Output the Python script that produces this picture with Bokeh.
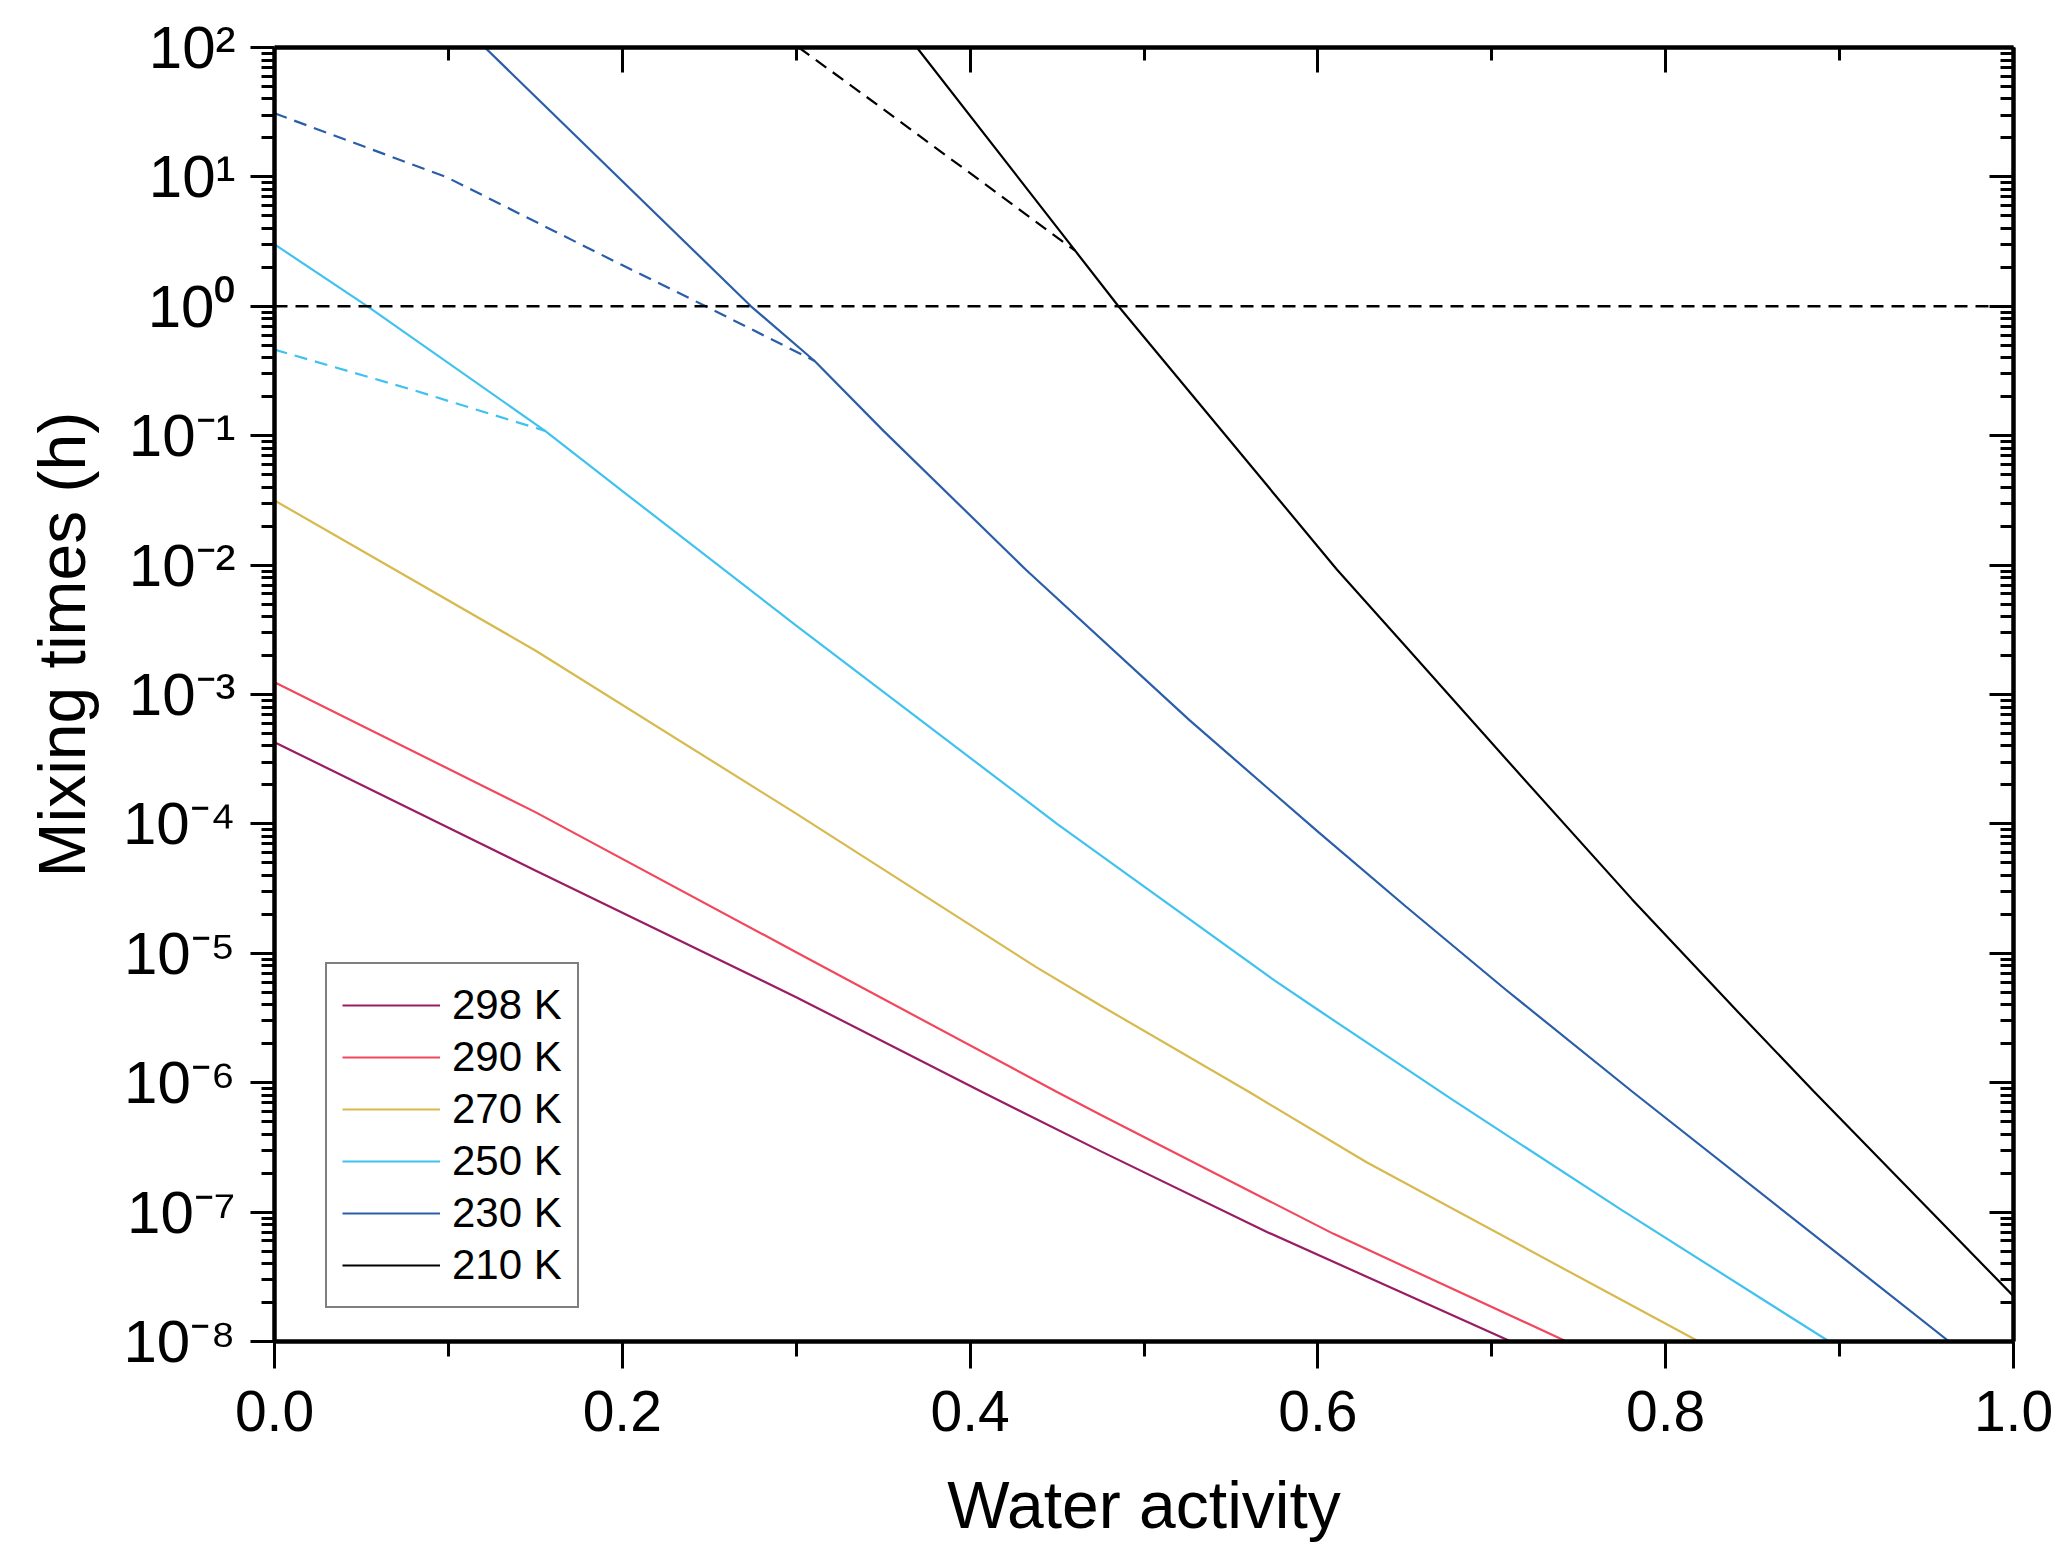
from bokeh.plotting import figure
from bokeh.models import (Range1d, FixedTicker, SingleIntervalTicker, LinearAxis, LogAxis,
                          NumeralTickFormatter, CustomJSTickFormatter, Span, Title)
from bokeh.embed import file_html
from bokeh.resources import INLINE

FONT = "Liberation Sans"

# water activity -> mixing time (h)
aw_298 = [0.0, 0.15, 0.30, 0.4075, 0.475, 0.571, 0.711]
tau_298 = [4.28e-4, 4.37e-5, 4.58e-6, 8.40e-7, 2.96e-7, 7.00e-8, 1.0e-8]

aw_290 = [0.0, 0.15, 0.30, 0.45, 0.475, 0.609, 0.743]
tau_290 = [1.245e-3, 1.233e-4, 1.02e-5, 8.47e-7, 5.65e-7, 6.79e-8, 1.0e-8]

aw_270 = [0.0, 0.15, 0.30, 0.438, 0.475, 0.561, 0.628, 0.775, 0.819]
tau_270 = [3.16e-2, 2.19e-3, 1.20e-4, 7.82e-6, 3.95e-6, 8.39e-7, 2.43e-7, 2.08e-8, 1.0e-8]

aw_250 = [0.0, 0.0535, 0.1556, 0.206, 0.300, 0.450, 0.575, 0.600, 0.650, 0.676, 0.775, 0.894]
tau_250 = [3.01, 1.0, 0.109, 3.24e-2, 3.41e-3, 1.00e-4, 6.17e-6, 3.66e-6, 1.30e-6,
           7.59e-7, 1.03e-7, 1.0e-8]
aw_250_dash = [0.0, 0.078, 0.1556]
tau_250_dash = [0.463, 0.229, 0.109]

aw_230 = [0.121, 0.274, 0.3106, 0.3502, 0.4324, 0.5263, 0.6003, 0.6504, 0.7079, 0.7807, 0.963]
tau_230 = [100.0, 1.0, 0.378, 0.109, 9.12e-3, 6.31e-4, 8.63e-5, 2.31e-5, 5.25e-6, 8.55e-7, 1.0e-8]
aw_230_dash = [0.0, 0.0991, 0.1993, 0.248, 0.3106]
tau_230_dash = [31.0, 9.93, 2.10, 1.0, 0.378]

aw_210 = [0.3694, 0.4604, 0.4853, 0.6109, 0.6504, 0.7136, 0.7807, 0.842, 0.8852, 1.0]
tau_210 = [100.0, 2.69, 1.0, 9.25e-3, 2.36e-3, 2.63e-4, 2.61e-5, 3.47e-6, 8.55e-7, 2.24e-8]
aw_210_dash = [0.3015, 0.3502, 0.4604]
tau_210_dash = [100.0, 33.3, 2.69]

one_hour = 1.0
y_tick_exponents = [-8, -7, -6, -5, -4, -3, -2, -1, 0, 1, 2]

series = [
    ("298 K", aw_298, tau_298, None, None, "#9a1c62"),
    ("290 K", aw_290, tau_290, None, None, "#f2475c"),
    ("270 K", aw_270, tau_270, None, None, "#d8b94e"),
    ("250 K", aw_250, tau_250, aw_250_dash, tau_250_dash, "#40c2ee"),
    ("230 K", aw_230, tau_230, aw_230_dash, tau_230_dash, "#2a5ea9"),
    ("210 K", aw_210, tau_210, aw_210_dash, tau_210_dash, "#000000"),
]

p = figure(width=2060, height=1552, x_range=Range1d(0, 1), y_range=Range1d(1e-8, 1e2),
           y_axis_type="log", output_backend="svg", toolbar_location=None,
           min_border_left=274, min_border_right=47, min_border_top=47, min_border_bottom=211)
p.xgrid.visible = False
p.ygrid.visible = False
p.outline_line_color = None

xticker = SingleIntervalTicker(interval=0.2, num_minor_ticks=2)
yticker = FixedTicker(ticks=[10.0 ** e for e in y_tick_exponents],
                      minor_ticks=[m * 10.0 ** e for e in y_tick_exponents[:-1] for m in range(2, 10)])
blank = CustomJSTickFormatter(code="return '';")

# 10 with a superscript exponent
pow10 = CustomJSTickFormatter(code="""
const sup = {"-": "\u207b", "0": "\u2070", "1": "\u00b9", "2": "\u00b2", "3": "\u00b3",
             "4": "\u2074", "5": "\u2075", "6": "\u2076", "7": "\u2077", "8": "\u2078", "9": "\u2079"};
const e = Math.round(Math.log10(tick));
return "10" + String(e).split("").map(c => sup[c]).join("");
""")


def style(ax, out_major, out_minor, inward=False):
    ax.axis_line_width = 4.5
    ax.axis_line_color = "black"
    ax.major_tick_line_width = 3
    ax.minor_tick_line_width = 3
    ax.major_tick_line_color = "black"
    ax.minor_tick_line_color = "black"
    if inward:
        ax.major_tick_in, ax.major_tick_out = out_major, 0
        ax.minor_tick_in, ax.minor_tick_out = out_minor, 0
    else:
        ax.major_tick_in, ax.major_tick_out = 0, out_major
        ax.minor_tick_in, ax.minor_tick_out = 0, out_minor
    ax.major_label_text_font = FONT
    ax.major_label_text_color = "black"
    ax.axis_label_text_font = FONT
    ax.axis_label_text_font_style = "normal"
    ax.axis_label_text_color = "black"


xax = p.xaxis[0]
xax.ticker = xticker
xax.formatter = NumeralTickFormatter(format="0.0")
style(xax, 27, 15)
xax.major_label_text_font_size = "57px"
xax.major_label_standoff = 22
xax.axis_label = "Water activity"
xax.axis_label_text_font_size = "66px"
xax.axis_label_standoff = 34

yax = p.yaxis[0]
yax.ticker = yticker
yax.formatter = pow10
style(yax, 24, 13)
yax.major_label_text_font_size = "60px"
yax.major_label_standoff = 15

top = LinearAxis(ticker=xticker, formatter=blank)
style(top, 25, 13, inward=True)
top.major_label_text_font_size = "1px"
p.add_layout(top, "above")

right = LogAxis(ticker=yticker, formatter=blank)
style(right, 24, 13, inward=True)
right.major_label_text_font_size = "1px"
p.add_layout(right, "right")

# y title sits a little above the middle of the axis, as in the original
ytitle = Title(text="Mixing times (h)", align="left", offset=464, standoff=42,
               text_font=FONT, text_font_size="66px", text_font_style="normal",
               text_line_height=1.0, text_color="black")
p.add_layout(ytitle, "left")

p.add_layout(Span(location=one_hour, dimension="width", line_color="black",
                  line_dash="13 8", line_width=2.5))

for name, xs, ys, xd, yd, color in series:
    if xd is not None:
        p.line(xd, yd, line_color=color, line_width=2.2, line_dash="13 8")
    p.line(xs, ys, line_color=color, line_width=2.2, legend_label=name)

lg = p.legend[0]
lg.location = (51, 33)
lg.label_text_font = FONT
lg.label_text_font_size = "42px"
lg.label_text_color = "black"
lg.glyph_width = 98
lg.glyph_height = 52
lg.label_height = 52
lg.label_standoff = 12
lg.spacing = 0
lg.padding = 15
lg.border_line_color = "black"
lg.border_line_width = 2
lg.background_fill_color = "white"
lg.background_fill_alpha = 1.0

open("out.html", "w").write(file_html(p, INLINE))
